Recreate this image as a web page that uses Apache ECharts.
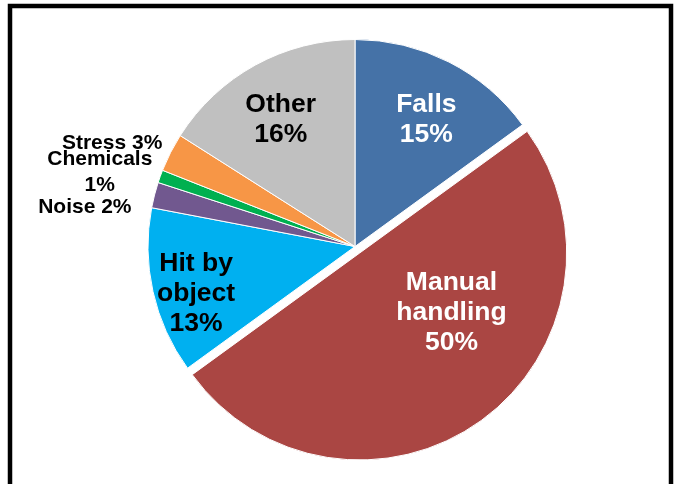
<!DOCTYPE html>
<html>
<head>
<meta charset="utf-8">
<script src="https://cdn.jsdelivr.net/npm/echarts@6/dist/echarts.min.js"></script>
<style>
  html, body { margin: 0; padding: 0; background: #fff; }
  #chart { width: 679px; height: 484px; }
</style>
</head>
<body>
<div id="chart"></div>
<script>
// Causes of workplace injury, share of cases (%)
const categories = ['Falls', 'Manual handling', 'Hit by object', 'Noise', 'Chemicals', 'Stress', 'Other'];
const shares = [15, 50, 13, 2, 1, 3, 16];
const labelNames = ['Falls', 'Manual\nhandling', 'Hit by\nobject', 'Noise', 'Chemicals', 'Stress', 'Other'];
const labelJoin = ['\n', '\n', '\n', ' ', '\n', ' ', '\n'];

const colors = ['#4572A7', '#AA4643', '#00B0F0', '#71588F', '#00B050', '#F79646', '#C0C0C0'];
const FONT = "'Liberation Sans', Arial, sans-serif";

// per-slice label styling: big labels inside, small ones set off to the left.
// The pulled-out slice places its label from the sector's box while selected,
// so it carries its own offset for that state.
const labelStyles = [
  { color: '#fff', fontSize: 26.5, lineHeight: 30, offset: [23, -32] },
  { color: '#fff', fontSize: 26.5, lineHeight: 30, offset: [30, -24], selectOffset: [72, 17] },
  { color: '#000', fontSize: 26.5, lineHeight: 30, offset: [-55, 24] },
  { color: '#000', fontSize: 21, lineHeight: 22, offset: [-167, -13] },
  { color: '#000', fontSize: 21, lineHeight: 26, offset: [-155, -38] },
  { color: '#000', fontSize: 21, lineHeight: 22, offset: [-148, -55] },
  { color: '#000', fontSize: 26.5, lineHeight: 30, offset: [-23, -33] }
];

const pieData = categories.map((name, i) => {
  const st = labelStyles[i];
  const label = {
    show: true,
    position: 'inside',
    fontFamily: FONT,
    fontWeight: 'bold',
    align: 'center',
    verticalAlign: 'middle',
    color: st.color,
    fontSize: st.fontSize,
    lineHeight: st.lineHeight,
    offset: st.offset,
    formatter: labelNames[i] + labelJoin[i] + shares[i] + '%'
  };
  return {
    name: name,
    value: shares[i],
    selected: name === 'Manual handling',
    itemStyle: { color: colors[i] },
    label: label,
    select: { label: Object.assign({}, label, { offset: st.selectOffset || st.offset }) }
  };
});

const chart = echarts.init(document.getElementById('chart'), null, { renderer: 'canvas' });
chart.setOption({
  animation: false,
  backgroundColor: '#fff',
  graphic: [{
    type: 'rect',
    shape: { x: 10, y: 6, width: 661, height: 500 },
    style: { fill: 'none', stroke: '#000', lineWidth: 4.5 },
    z: 10
  }],
  series: [{
    type: 'pie',
    center: [355, 246.5],
    radius: 207,
    startAngle: 90,
    clockwise: true,
    selectedMode: 'single',
    selectedOffset: 8,
    avoidLabelOverlap: false,
    labelLayout: { hideOverlap: false },
    labelLine: { show: false },
    itemStyle: { borderColor: '#fff', borderWidth: 1 },
    emphasis: { disabled: true },
    data: pieData
  }]
});
</script>
</body>
</html>
